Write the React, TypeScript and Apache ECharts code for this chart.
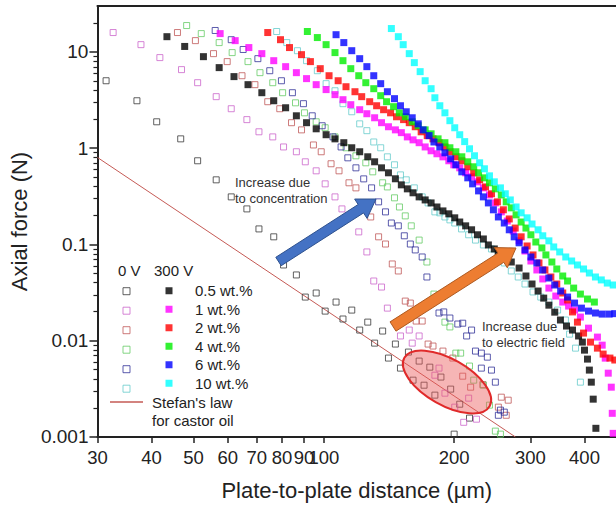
import React, { useEffect, useRef } from 'react';
import * as echarts from 'echarts';

// ---------- axes ----------
const xTickValues = [30, 40, 50, 60, 70, 80, 90, 100, 200, 300, 400];
const yTickValues = [0.001, 0.01, 0.1, 1, 10];
const yMinorTicks = [
  0.002, 0.003, 0.004, 0.005, 0.006, 0.007, 0.008, 0.009,
  0.02, 0.03, 0.04, 0.05, 0.06, 0.07, 0.08, 0.09,
  0.2, 0.3, 0.4, 0.5, 0.6, 0.7, 0.8, 0.9,
  2, 3, 4, 5, 6, 7, 8, 9, 20,
];

// ---------- legend labels / colours ----------
const concLabels = ['0.5 wt.%', '1 wt.%', '2 wt.%', '4 wt.%', '6 wt.%', '10 wt.%'];
const openColors = ['#3a3a3a', '#cc66cc', '#c05a5a', '#66cc66', '#333399', '#66cccc'];
const filledColors = ['#000000', '#ff00ff', '#ff0000', '#00ee00', '#0000ff', '#00ffff'];
const stefanName = "Stefan's law for castor oil";

// ---------- 0 V (open squares) ----------
const open05: [number, number][] = [
  [31.4, 5.02], [37.0, 3.11], [41.1, 1.88], [46.7, 1.25], [51.1, 0.74], [56.4, 0.469], [61.1, 0.312],
  [66.4, 0.234], [70.8, 0.145], [76.6, 0.12], [80.7, 0.0612], [86.4, 0.0482], [90.6, 0.0284], [96.0, 0.0313],
  [100.7, 0.0203], [106.7, 0.0252], [110.7, 0.0168], [116, 0.0208], [121, 0.0129], [126.3, 0.0156],
  [131, 0.00944], [136.7, 0.0126], [141, 0.0066], [146.3, 0.00923], [150.3, 0.00519], [156.8, 0.00762],
  [160.7, 0.00389], [166, 0.00614], [170.4, 0.00345], [175.7, 0.00531], [180.5, 0.00272], [186.4, 0.00419],
  [196.3, 0.00314], [206, 0.00219], [217, 0.00157], [200, 0.00107],
];
const open1: [number, number][] = [
  [32.6, 15.9], [37.8, 11.9], [41.8, 8.73], [46.9, 6.55], [51.1, 4.79], [56.4, 3.43], [61.1, 2.57],
  [66.4, 1.98], [70.8, 1.48], [76.2, 1.31], [80.7, 1.03], [86.4, 0.918], [90.6, 0.722], [96.0, 0.582],
  [100.7, 0.426], [106.1, 0.312], [110.1, 0.234], [120.4, 0.135], [125.7, 0.0836], [130.4, 0.0417],
  [135.9, 0.0361], [140.2, 0.0218], [150.3, 0.0112], [157.5, 0.0129], [160, 0.00944], [166, 0.0112],
  [180.5, 0.00438], [184.5, 0.00519], [190.4, 0.00285], [200.6, 0.00204], [210.4, 0.00142],
  [216, 0.00253], [225.2, 0.00153],
];
const open2: [number, number][] = [
  [45.9, 15.9], [50.5, 13.1], [55.6, 9.6], [59.8, 7.93], [64.7, 5.66], [69.3, 4.57], [74.2, 3.04],
  [79.1, 2.57], [84.2, 1.84], [88.8, 1.55], [94.6, 1.08], [98.6, 0.918], [103.9, 0.689], [108.4, 0.582],
  [114.3, 0.437], [118.6, 0.387], [128.3, 0.193], [133.8, 0.12], [138.8, 0.101], [143.9, 0.0627],
  [148.6, 0.053], [154.2, 0.0258], [158.4, 0.0246], [163.4, 0.016], [168.7, 0.016], [174.1, 0.00923],
  [178.7, 0.0088], [188.4, 0.0078], [198.6, 0.0066], [209.3, 0.00428], [218.3, 0.00329], [233, 0.0035],
  [257, 0.00259], [266.6, 0.00241], [253, 0.00204], [263.8, 0.00168],
];
const open4: [number, number][] = [
  [48.2, 18.8], [52.1, 15.5], [57.3, 12.5], [61.4, 9.84], [66.8, 7.93], [71.2, 6.09], [76.2, 4.79],
  [80.3, 3.77], [86, 2.96], [90.2, 2.33], [96.0, 1.88], [100.7, 1.63], [106.1, 1.31], [112.5, 1.01],
  [118.6, 0.833], [125, 0.705], [129.7, 0.568], [136.7, 0.437], [140.2, 0.396], [145.6, 0.305],
  [149.5, 0.245], [154.2, 0.198], [159.2, 0.156], [166, 0.111], [173, 0.0657], [179.6, 0.0305],
  [190.4, 0.0156], [195.5, 0.0139], [201.8, 0.00743], [207, 0.00743], [217, 0.00545], [221.9, 0.00389],
  [233.6, 0.00345], [241.3, 0.00214], [249, 0.00115], [255.8, 0.00107],
];
const open6: [number, number][] = [
  [56.1, 16.7], [61.1, 13.4], [65.1, 10.6], [70.4, 8.51], [75.0, 6.38], [79.8, 5.02], [84.6, 3.77],
  [89.7, 2.9], [94.0, 2.17], [99.1, 1.71], [105, 1.31], [109.6, 1.03], [113.6, 0.794], [118.6, 0.625],
  [123.6, 0.48], [128.9, 0.387], [133.8, 0.277], [138.8, 0.218], [143.2, 0.167], [148.6, 0.156],
  [153.4, 0.123], [158.4, 0.101], [162.6, 0.0877], [168.7, 0.0741], [173, 0.0459], [184.5, 0.0194],
  [189.2, 0.0199], [195.5, 0.0172], [203.9, 0.0149], [209.3, 0.0152], [213.7, 0.0112], [219.4, 0.0129],
  [224, 0.0078], [231.1, 0.00743], [238.6, 0.00675], [231.1, 0.00519], [243.9, 0.00495], [249, 0.00371],
  [255.8, 0.0019], [253, 0.00168], [261.1, 0.00181],
];
const open10: [number, number][] = [
  [77.8, 16.3], [82.1, 12.5], [86.9, 10.3], [91.2, 8.11], [96.6, 6.38], [101.2, 4.68], [106.1, 3.95],
  [110.7, 2.9], [116, 2.39], [121, 1.79], [125.7, 1.52], [130.4, 1.16], [135.3, 1.01], [140.2, 0.813],
  [145.6, 0.672], [150.3, 0.528], [155, 0.469], [161.8, 0.387], [168.7, 0.312], [174.1, 0.27],
  [180.5, 0.218], [185.3, 0.213], [190.4, 0.193], [195.5, 0.18], [200.6, 0.167], [208, 0.145],
  [216, 0.126], [224, 0.111], [233.6, 0.0988], [243.9, 0.0898], [253, 0.0778], [261.1, 0.0642],
  [271, 0.053], [281.2, 0.0459], [291.5, 0.0388], [304.2, 0.0321], [317, 0.0284], [331, 0.0252],
  [346.7, 0.0208], [361.4, 0.0164], [369.5, 0.0117], [381.4, 0.00837], [391.4, 0.00371],
];

// ---------- 300 V (filled squares) ----------
const filled05: [number, number][] = [
  [43.4, 14.4], [47.7, 11.4], [52.7, 8.93], [57.3, 6.87], [62.0, 5.54], [66.8, 4.57], [71.9, 3.77],
  [76.6, 3.11], [81.6, 2.63], [86.4, 2.17], [91.2, 1.84], [96.0, 1.59], [101.2, 1.38], [106.1, 1.25],
  [111.2, 1.14], [116, 1.01], [121, 0.918], [126.3, 0.814], [131, 0.722], [135.9, 0.625], [141, 0.555],
  [146.3, 0.481], [151, 0.416], [155.9, 0.378], [160.7, 0.344], [166, 0.312], [171.4, 0.29], [176.9, 0.27],
  [182.5, 0.245], [188.4, 0.223], [194.4, 0.208], [200.6, 0.189], [206, 0.171], [212.6, 0.156],
  [219.4, 0.142], [226.4, 0.126], [233.6, 0.114], [239.9, 0.0988], [247.6, 0.0898], [252.8, 0.0815],
  [261, 0.0723], [271, 0.0657], [282.5, 0.0569], [293, 0.047], [302.6, 0.0388], [312.5, 0.0328],
  [322, 0.0277], [331, 0.0234], [341.5, 0.0198], [352, 0.0164], [363.5, 0.0142], [375.3, 0.0129],
  [387.6, 0.0112], [395.5, 0.00967], [400, 0.00798], [406.4, 0.00644], [410.5, 0.00495], [414.8, 0.00371],
  [419, 0.00247], [425, 0.00123],
];
const filled1: [number, number][] = [
  [57.6, 15.5], [62.4, 13.1], [67.1, 11.1], [71.9, 9.6], [76.6, 8.11], [81.6, 7.03], [86.4, 6.09],
  [91.2, 5.28], [96.0, 4.57], [101.2, 4.06], [106.1, 3.6], [110.7, 3.19], [115.4, 2.83], [121, 2.51],
  [125.7, 2.28], [131, 2.07], [135.9, 1.84], [141, 1.67], [146.3, 1.55], [151, 1.45], [155.9, 1.31],
  [160.7, 1.22], [166, 1.14], [171.4, 1.03], [176.9, 0.94], [182.5, 0.875], [188.4, 0.813], [194.4, 0.74],
  [199.6, 0.672], [206, 0.625], [212.6, 0.555], [219.4, 0.504], [226.4, 0.447], [233.6, 0.387],
  [241.3, 0.327], [249, 0.27], [257, 0.218], [265.3, 0.175], [273.8, 0.138], [282.5, 0.109],
  [291.5, 0.0855], [300.8, 0.0673], [310.5, 0.0543], [320.4, 0.0438], [331, 0.0352], [343.4, 0.0291],
  [356.3, 0.0252], [367.6, 0.0229], [379.4, 0.0208], [391.4, 0.0176], [408.6, 0.0135], [428.5, 0.0109],
  [439.5, 0.00899], [446.7, 0.00659], [453.9, 0.0046], [461.3, 0.00329], [463.7, 0.00176], [466, 0.00109],
];
const filled2: [number, number][] = [
  [74.2, 15.9], [79.4, 13.4], [83.3, 11.1], [88.8, 9.37], [93.1, 7.93], [98.1, 6.7], [102.8, 5.66],
  [107.9, 5.02], [112.5, 4.35], [118, 3.86], [122.3, 3.43], [127.6, 3.04], [132.4, 2.76], [137.4, 2.51],
  [142.6, 2.33], [147.2, 2.12], [152.8, 1.98], [157.5, 1.84], [162.6, 1.67], [167.8, 1.48], [173.3, 1.35],
  [178.7, 1.25], [184.5, 1.14], [190.4, 1.03], [195.5, 0.918], [201.8, 0.814], [208.3, 0.74], [215, 0.641],
  [221.9, 0.555], [229, 0.469], [236.3, 0.396], [243.9, 0.336], [251.7, 0.277], [259.8, 0.229],
  [268.1, 0.184], [276.7, 0.148], [285.6, 0.12], [294.8, 0.0964], [304.2, 0.0778], [314, 0.0642],
  [324.1, 0.0543], [334.5, 0.0459], [345.2, 0.0388], [356.3, 0.0313], [365.6, 0.0265], [375.3, 0.0199],
  [385.3, 0.0156], [398, 0.012], [413, 0.00967], [428.5, 0.00837], [441.7, 0.00726], [458, 0.0066],
  [470, 0.0063],
];
const filled4: [number, number][] = [
  [91.6, 16.3], [96.6, 14.1], [101.2, 11.9], [106.1, 9.84], [110.7, 8.11], [115.4, 6.7], [120.4, 5.66],
  [125, 4.79], [130.4, 4.15], [135.3, 3.51], [139.6, 3.04], [144.9, 2.7], [149.4, 2.33], [154.2, 2.12],
  [160, 1.88], [165.2, 1.71], [171.4, 1.55], [176.9, 1.41], [183.6, 1.25], [190.4, 1.14], [195.5, 1.01],
  [201.8, 0.918], [208.3, 0.814], [215, 0.722], [221.9, 0.641], [227.7, 0.555], [234.9, 0.492],
  [241.3, 0.437], [249, 0.378], [257, 0.327], [263.8, 0.277], [271, 0.24], [278, 0.203], [285.6, 0.171],
  [293, 0.148], [300.8, 0.126], [308.8, 0.106], [318.9, 0.092], [325.8, 0.0778], [336.3, 0.0657],
  [345.2, 0.0556], [356.3, 0.047], [365.6, 0.0417], [377.6, 0.0352], [391.4, 0.0305], [406.4, 0.0271],
  [421.6, 0.0252],
];
const filled6: [number, number][] = [
  [106.7, 15.1], [111.2, 12.5], [116, 10.3], [121, 8.51], [125.7, 7.03], [130.4, 5.66], [135.3, 4.68],
  [140.2, 3.86], [145.6, 3.27], [150.3, 2.76], [155, 2.39], [160, 2.07], [165.2, 1.79], [169.5, 1.55],
  [175, 1.35], [179.6, 1.16], [185.3, 1.03], [190.4, 0.895], [196.3, 0.775], [201.8, 0.672], [208.3, 0.568],
  [215, 0.492], [220.6, 0.426], [227.7, 0.36], [233.6, 0.312], [239.9, 0.27], [246.4, 0.229], [253, 0.193],
  [261.1, 0.167], [268.1, 0.142], [275.2, 0.12], [282.5, 0.104], [291.5, 0.0877], [300.8, 0.0741],
  [310.5, 0.0642], [320.4, 0.0543], [331, 0.0448], [341.5, 0.0379], [352.4, 0.0328], [365.6, 0.0284],
  [379.4, 0.0246], [393.6, 0.0218], [408.6, 0.0203], [424, 0.0194], [439.5, 0.0189], [456, 0.0189],
  [470, 0.0191],
];
const filled10: [number, number][] = [
  [143.2, 17.5], [148.6, 14.4], [152.5, 11.9], [157.5, 9.6], [161.8, 7.74], [166.9, 6.24], [171.4, 5.02],
  [176.9, 4.15], [180.5, 3.34], [185.3, 2.76], [190.4, 2.33], [195.5, 1.93], [200.6, 1.63], [206, 1.38],
  [211.5, 1.17], [217, 0.986], [222.8, 0.834], [229, 0.705], [234.9, 0.611], [241.3, 0.516], [247.6, 0.447],
  [255.8, 0.387], [262.5, 0.336], [269.6, 0.29], [278, 0.245], [285.6, 0.213], [294.8, 0.189],
  [302.6, 0.163], [312.5, 0.142], [320.4, 0.123], [331, 0.109], [339.6, 0.0942], [350.6, 0.0836],
  [362.1, 0.0741], [373.6, 0.0673], [385.3, 0.0612], [398, 0.0556], [410.5, 0.0505], [424, 0.0459],
  [437.4, 0.0428], [451.6, 0.0397], [466, 0.0379],
];

// ---------- Stefan's law line ----------
const stefanX = [30, 277];
const stefanY = [0.8, 0.001];

const openData = [open05, open1, open2, open4, open6, open10];
const filledData = [filled05, filled1, filled2, filled4, filled6, filled10];

const FONT = "Arial, 'Liberation Sans', sans-serif";
const INK = '#222';

function arrowPoints(tx: number, ty: number, hx: number, hy: number, w: number, hw: number, hl: number) {
  const dx = hx - tx;
  const dy = hy - ty;
  const len = Math.sqrt(dx * dx + dy * dy);
  const ux = dx / len;
  const uy = dy / len;
  const nx = -uy;
  const ny = ux;
  const bx = hx - ux * hl;
  const by = hy - uy * hl;
  return [
    [tx + (nx * w) / 2, ty + (ny * w) / 2],
    [bx + (nx * w) / 2, by + (ny * w) / 2],
    [bx + (nx * hw) / 2, by + (ny * hw) / 2],
    [hx, hy],
    [bx - (nx * hw) / 2, by - (ny * hw) / 2],
    [bx - (nx * w) / 2, by - (ny * w) / 2],
    [tx - (nx * w) / 2, ty - (ny * w) / 2],
  ];
}

export default function App() {
  const ref = useRef<HTMLDivElement>(null);

  useEffect(() => {
    if (!ref.current) return;
    const chart = echarts.init(ref.current, undefined, { renderer: 'svg' });

    const openNames = concLabels.map((c) => '0 V ' + c);

    const series: any[] = [
      {
        type: 'line',
        name: stefanName,
        data: stefanX.map((x, i) => [x, stefanY[i]]),
        symbol: 'none',
        lineStyle: { color: '#c55a55', width: 1 },
        itemStyle: { color: '#c55a55' },
        z: 1,
        silent: true,
      },
      ...openData.map((d, i) => ({
        type: 'scatter',
        name: openNames[i],
        data: d,
        symbol: 'rect',
        symbolSize: 6,
        itemStyle: { color: 'rgba(255,255,255,0)', borderColor: openColors[i], borderWidth: 1 },
        z: 2,
        silent: true,
      })),
      ...filledData.map((d, i) => ({
        type: 'scatter',
        name: concLabels[i],
        data: d,
        symbol: 'rect',
        symbolSize: 7,
        itemStyle: { color: filledColors[i] },
        z: 3,
        silent: true,
      })),
    ];

    const option: any = {
      animation: false,
      backgroundColor: '#ffffff',
      textStyle: { fontFamily: FONT },
      grid: { left: 92, right: 0, top: 6, bottom: 73, containLabel: false },
      xAxis: [
        {
          type: 'log',
          logBase: 10,
          min: 29.99,
          max: 473,
          name: 'Plate-to-plate distance (µm)',
          nameLocation: 'middle',
          nameGap: 42,
          nameTextStyle: { fontSize: 22, color: INK, fontFamily: FONT },
          axisLine: { show: true, lineStyle: { color: INK, width: 2 } },
          axisTick: { show: true, length: 6, customValues: xTickValues, lineStyle: { color: INK, width: 1.5 } },
          axisLabel: {
            customValues: xTickValues,
            formatter: (v: number) => String(Math.round(v)),
            fontSize: 18.5,
            color: INK,
            margin: 11,
            fontFamily: FONT,
          },
          splitLine: { show: false },
          minorTick: { show: false },
        },
        {
          type: 'log',
          logBase: 10,
          min: 29.99,
          max: 473,
          position: 'top',
          axisLine: { show: true, lineStyle: { color: INK, width: 2 } },
          axisTick: { show: false },
          axisLabel: { show: false },
          splitLine: { show: false },
        },
      ],
      yAxis: [
        {
          type: 'log',
          logBase: 10,
          min: 0.000999,
          max: 30,
          name: 'Axial force (N)',
          nameLocation: 'middle',
          nameGap: 53,
          nameTextStyle: { fontSize: 22, color: INK, fontFamily: FONT },
          axisLine: { show: true, lineStyle: { color: INK, width: 2 } },
          axisTick: { show: true, length: 8, customValues: yTickValues, lineStyle: { color: INK, width: 1.5 } },
          axisLabel: {
            customValues: yTickValues,
            formatter: (v: number) => String(v),
            fontSize: 19,
            color: INK,
            margin: 9,
            fontFamily: FONT,
          },
          splitLine: { show: false },
        },
        {
          type: 'log',
          logBase: 10,
          min: 0.000999,
          max: 30,
          position: 'left',
          axisLine: { show: false },
          axisTick: { show: true, length: 4, customValues: yMinorTicks, lineStyle: { color: INK, width: 1.2 } },
          axisLabel: { show: false },
          splitLine: { show: false },
        },
      ],
      legend: [
        {
          data: openNames,
          orient: 'vertical',
          left: 122.5,
          top: 287.2,
          padding: 0,
          itemWidth: 7,
          itemHeight: 7,
          itemGap: 11.5,
          selectedMode: false,
          formatter: () => '',
          itemStyle: { borderWidth: 1 },
          textStyle: { fontSize: 15, fontFamily: FONT },
        },
        {
          data: concLabels,
          orient: 'vertical',
          left: 165.5,
          top: 281.5,
          padding: 0,
          itemWidth: 7,
          itemHeight: 7,
          itemGap: 0,
          selectedMode: false,
          textStyle: { fontSize: 15, lineHeight: 18.5, color: INK, fontFamily: FONT, padding: [0, 0, 0, 17.5] },
        },
        {
          data: [{ name: stefanName, icon: 'rect' }],
          orient: 'vertical',
          left: 110,
          top: 375,
          padding: 0,
          itemWidth: 33,
          itemHeight: 1.5,
          selectedMode: false,
          formatter: () => "\nStefan's law\nfor castor oil",
          textStyle: { fontSize: 15, lineHeight: 18, color: INK, fontFamily: FONT, padding: [0, 0, 0, 4] },
        },
      ],
      graphic: [
        { type: 'text', left: 118, top: 263, style: { text: '0 V', font: `15px ${FONT}`, fill: INK } },
        { type: 'text', left: 154, top: 263, style: { text: '300 V', font: `15px ${FONT}`, fill: INK } },
        {
          type: 'text',
          left: 235,
          top: 174,
          z: 50,
          style: { text: 'Increase due\nto concentration', font: `13px ${FONT}`, lineHeight: 16, fill: '#333' },
        },
        {
          type: 'text',
          left: 482,
          top: 318,
          z: 50,
          style: { text: 'Increase due\nto electric field', font: `13px ${FONT}`, lineHeight: 16, fill: '#333' },
        },
        {
          type: 'polygon',
          z: 100,
          shape: { points: arrowPoints(278.5, 261.5, 376, 199, 10, 23, 18) },
          style: { fill: '#4472c4', stroke: '#2f528f', lineWidth: 1 },
        },
        {
          type: 'polygon',
          z: 100,
          shape: { points: arrowPoints(393, 326.5, 516, 248, 11, 24, 18) },
          style: { fill: '#ed7d31', stroke: '#ae5a21', lineWidth: 1 },
        },
        {
          type: 'ellipse',
          z: 100,
          x: 447,
          y: 382,
          rotation: -0.515,
          shape: { cx: 0, cy: 0, rx: 49, ry: 23 },
          style: { fill: 'rgba(235,90,90,0.45)', stroke: '#e02a2a', lineWidth: 2 },
        },
      ],
      series,
    };

    chart.setOption(option);
    return () => {
      chart.dispose();
    };
  }, []);

  return (
    <div
      ref={ref}
      style={{ position: 'fixed', left: 0, top: 0, width: 616, height: 510, background: '#fff' }}
    />
  );
}
